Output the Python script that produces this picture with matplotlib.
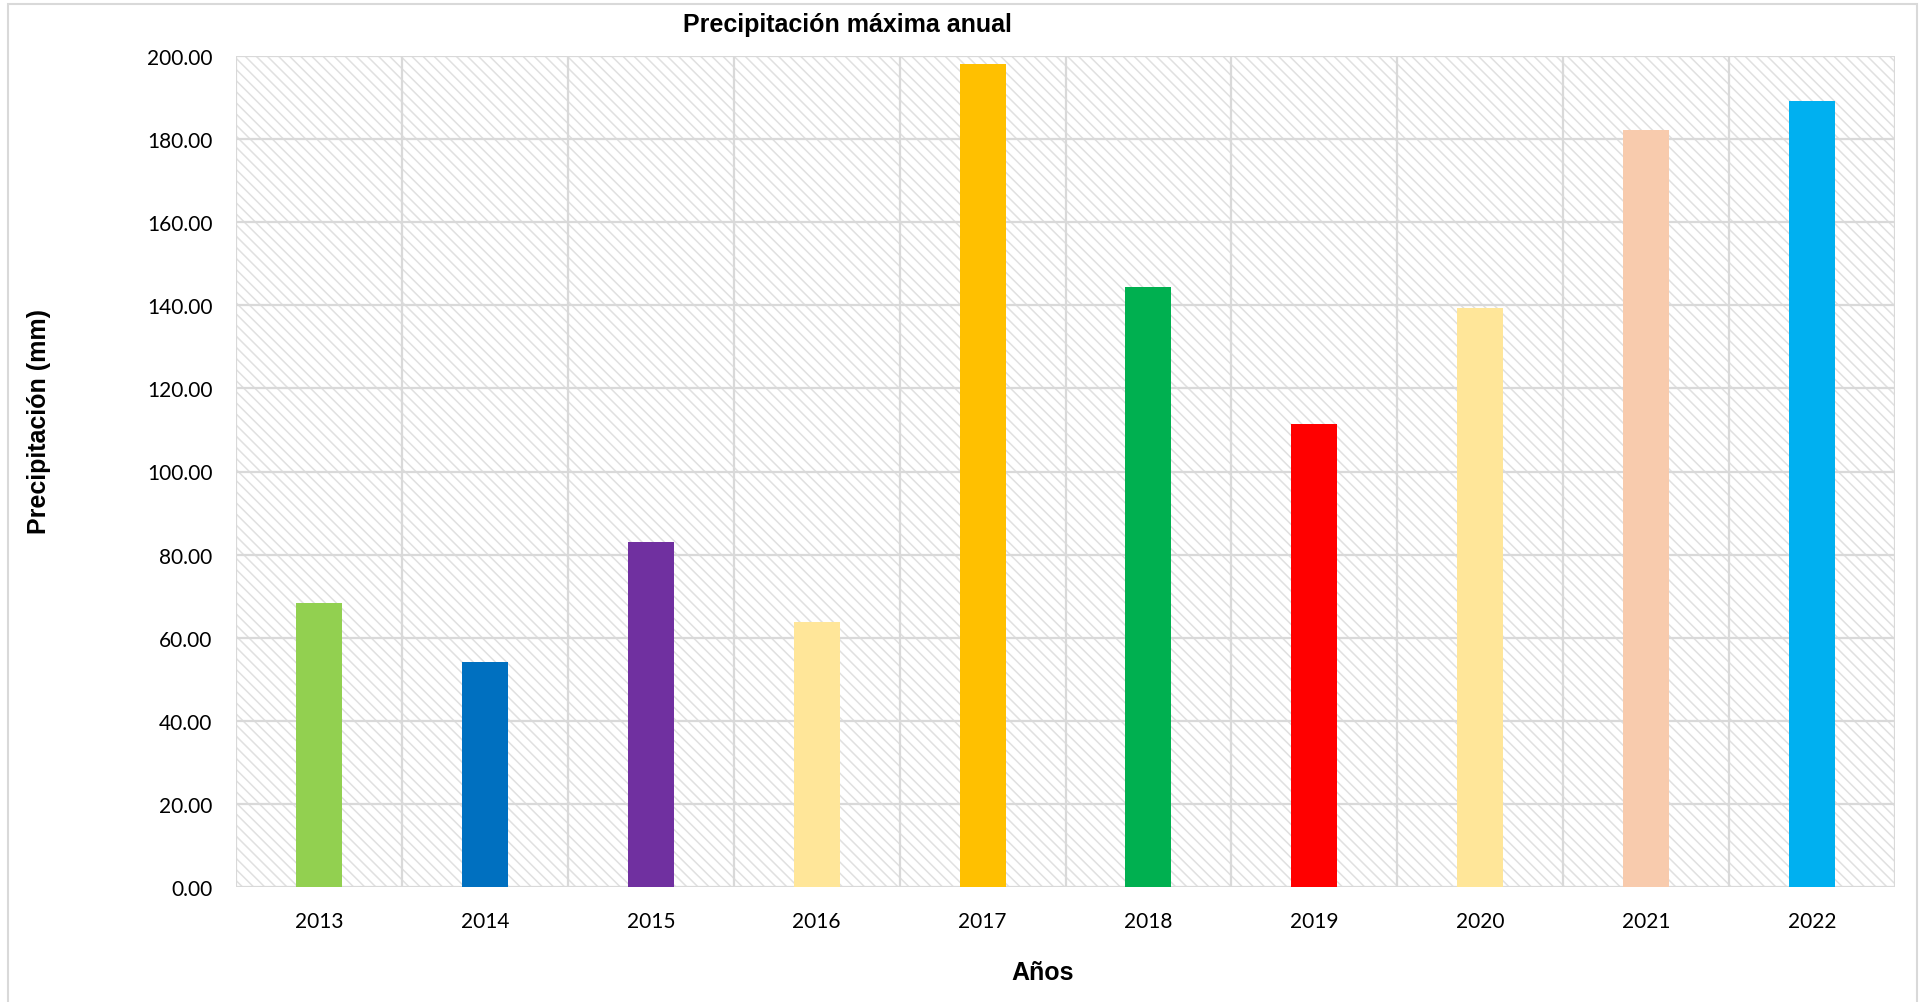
import matplotlib
matplotlib.use("Agg")
import matplotlib.pyplot as plt
from matplotlib.patches import Rectangle

# Data
years = ["2013", "2014", "2015", "2016", "2017", "2018", "2019", "2020", "2021", "2022"]
precip_mm = [68.3, 54.1, 83.0, 63.8, 198.1, 144.3, 111.4, 139.4, 182.2, 189.2]
bar_colors = ["#92D050", "#0070C0", "#7030A0", "#FFE699", "#FFC000",
              "#00B050", "#FF0000", "#FFE699", "#F8CBAD", "#00B0F0"]
y_ticks = [0, 20, 40, 60, 80, 100, 120, 140, 160, 180, 200]

title = "Precipitación máxima anual"
x_label = "Años"
y_label = "Precipitación (mm)"

GRID = "#d9d9d9"
HATCH = "#e0e0e0"
plt.rcParams["hatch.color"] = HATCH
plt.rcParams["hatch.linewidth"] = 1.1

W, H = 1923, 1003
fig = plt.figure(figsize=(W / 100, H / 100), dpi=100)
fig.patch.set_facecolor("white")

# Chart border
fig.patches.append(Rectangle((8 / W, -0.01), (1917 - 8) / W, 1 - 5 / H + 0.01,
                             transform=fig.transFigure, fill=False,
                             edgecolor=GRID, linewidth=1.5))

ax = fig.add_axes([236 / W, 1 - 888 / H, (1895 - 236) / W, (888 - 57) / H])
n = len(years)
x = list(range(n))

ax.set_xlim(-0.5, n - 0.5)
ax.set_ylim(0, 200)

# Patterned plot area
ax.add_patch(Rectangle((0, 0), 1, 1, transform=ax.transAxes, facecolor="white",
                       edgecolor=HATCH, hatch="\\\\\\", linewidth=0, zorder=0))

# Grid: horizontal at each tick, vertical between categories
for yv in y_ticks:
    ax.axhline(yv, color=GRID, linewidth=1.6, zorder=1)
for i in range(n + 1):
    ax.axvline(i - 0.5, color=GRID, linewidth=1.6, zorder=1)

ax.bar(x, precip_mm, width=0.277, color=bar_colors, zorder=3, linewidth=0)

for s in ax.spines.values():
    s.set_visible(False)

ax.set_xticks(x)
ax.set_xticklabels(years, fontfamily="Lato", fontsize=15)
ax.set_yticks(y_ticks)
ax.set_yticklabels([f"{v:.2f}" for v in y_ticks], fontfamily="Lato", fontsize=15)
ax.tick_params(axis="both", length=0)
ax.tick_params(axis="y", pad=17)
ax.tick_params(axis="x", pad=17)

fig.text(847 / W, 1 - 32 / H, title, ha="center", va="baseline",
         fontfamily="Liberation Sans", fontweight="bold", fontsize=18)
fig.text(1043 / W, 1 - 980 / H, x_label, ha="center", va="baseline",
         fontfamily="Liberation Sans", fontweight="bold", fontsize=18)
fig.text(39 / W, 1 - 422 / H, y_label, ha="center", va="center", rotation=90,
         fontfamily="Liberation Sans", fontweight="bold", fontsize=18)

fig.savefig("out.png", dpi=100, facecolor="white")
